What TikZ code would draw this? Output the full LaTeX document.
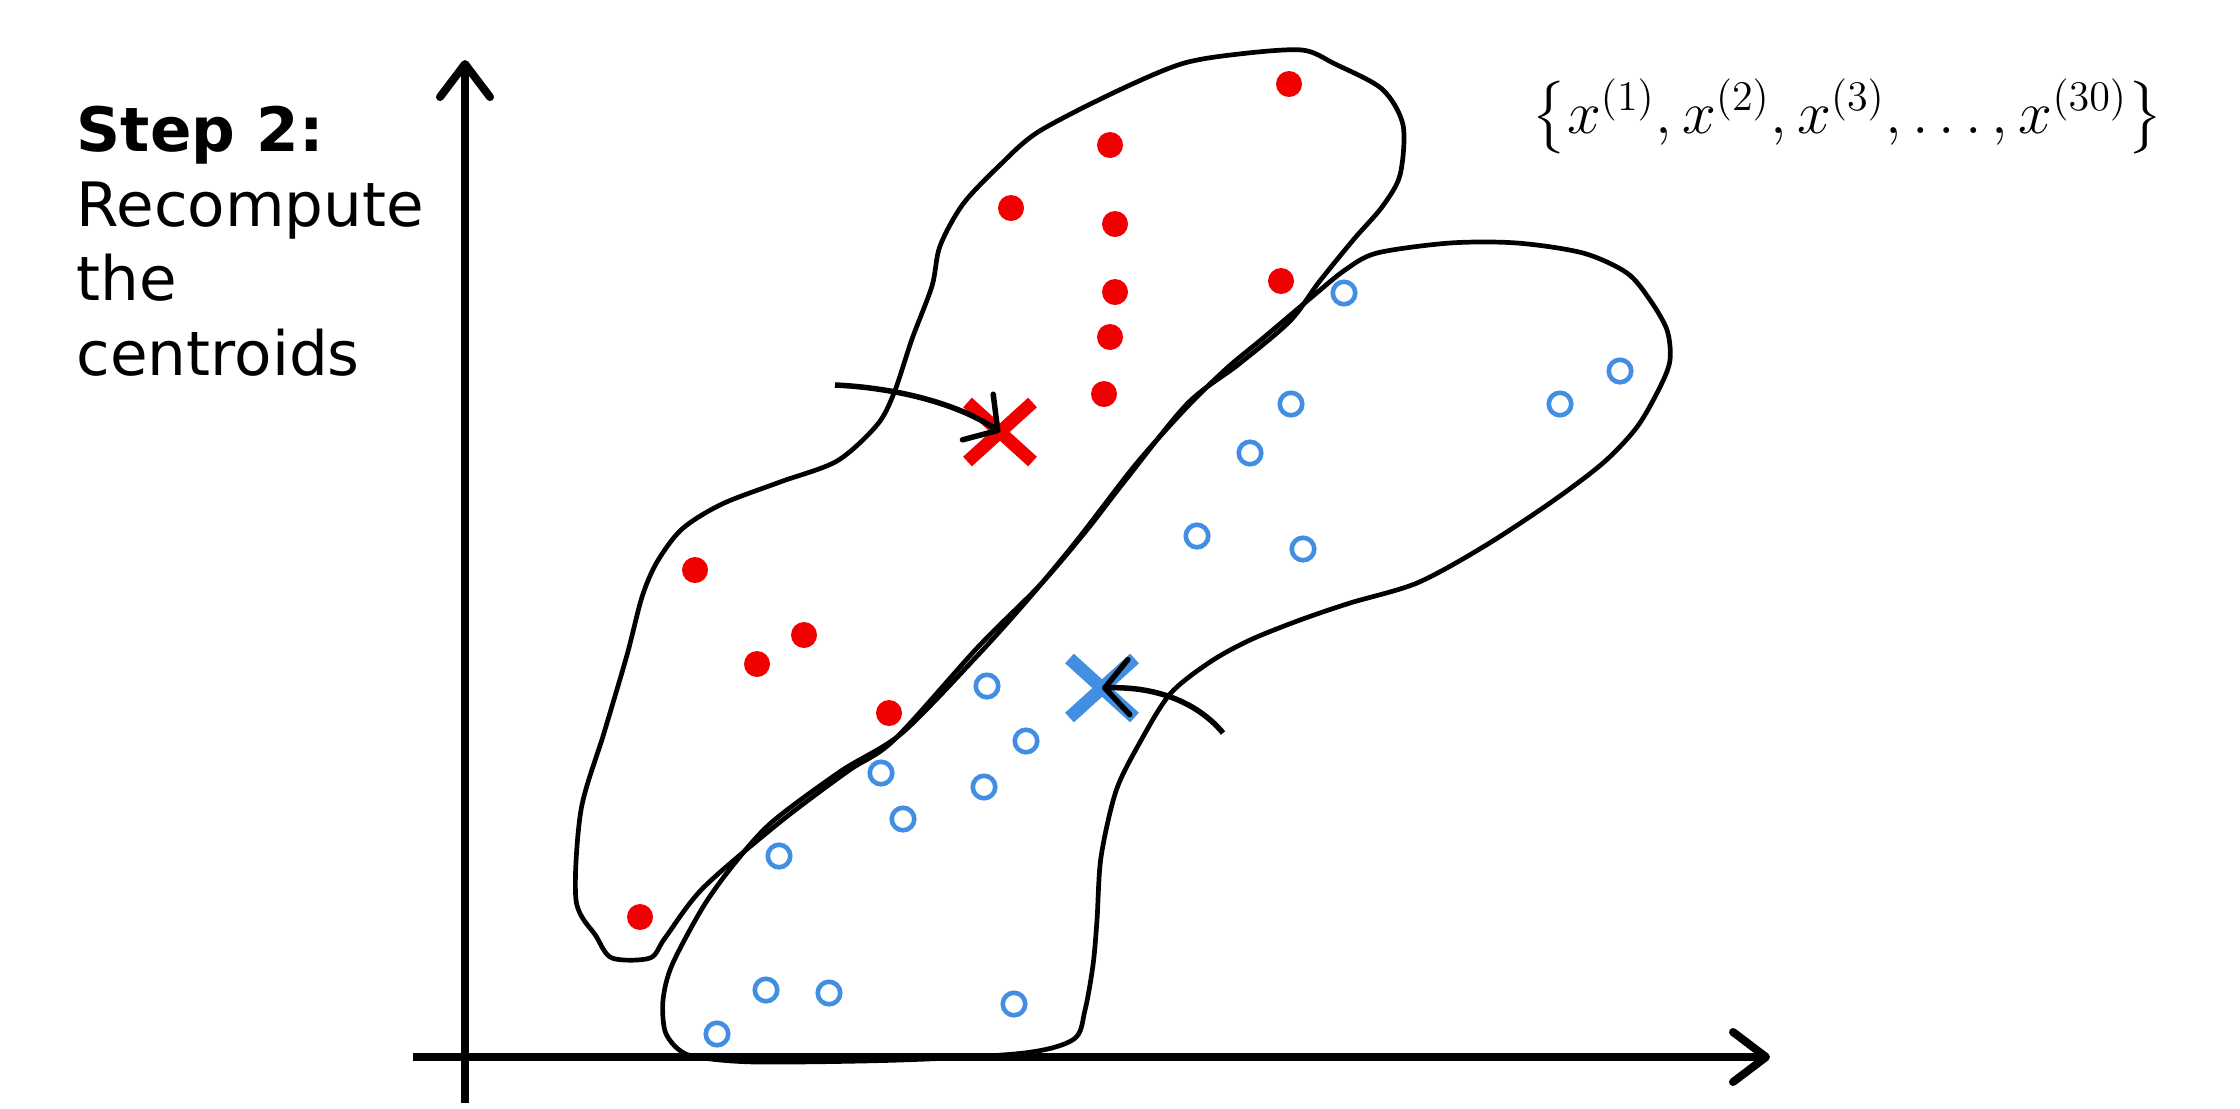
\documentclass[tikz,border=0pt]{standalone}
\usepackage{fontspec}
\usepackage{amsmath}
\newfontfamily\stepfont{DejaVu Sans}
\usetikzlibrary{arrows.meta,shapes.misc}
\definecolor{ptred}{RGB}{240,0,0}
\definecolor{ptblue}{RGB}{66,142,226}

\begin{document}
\begin{tikzpicture}[%
      x=0.01cm, y=-0.01cm,          % work in pixels of the slide
      axis/.style={line width=0.08cm, -{Straight Barb[length=3.3mm,width=5mm,round]}},
      pointer/.style={line width=0.055cm, -{Straight Barb[length=2.4mm,width=5.5mm,round]}},
      blob/.style={line width=0.047cm, line join=round}
      ]
  \tikzset{
     reddot/.style={circle, fill=ptred, inner sep=0pt, minimum size=0.26cm},
     bluedot/.style={circle, draw=ptblue, line width=0.046cm, inner sep=0pt, minimum size=0.225cm},
     centroid/.style={cross out, draw=#1, line width=0.13cm, inner sep=0pt,
        minimum width=0.52cm, minimum height=0.46cm}}
 \useasboundingbox (0,0) rectangle (2240,1108);

 % clusters
 \draw[blob] plot[smooth cycle, tension=0.5] coordinates {
   (1239,54) (1302,50) (1335,64) (1382,89) (1403,125) (1400,175) (1382,207)
   (1354,239) (1319,282) (1290,321) (1239,364) (1187,404) (1124,482) (1086,531)
   (1040,585) (978,647) (894,740) (848,771) (780,822) (703,888) (665,938)
   (650,958) (612,958) (596,936) (576,900) (581,810) (604,733)
   (627,655) (642,597) (657,562) (682,529) (722,504) (780,482) (837,461)
   (877,425) (894,393) (912,339) (932,286) (940,246) (963,204) (1000,165)
   (1038,132) (1113,93) (1181,64)};
 \draw[blob] plot[smooth cycle, tension=0.5] coordinates {
   (1377,253) (1450,243) (1517,243) (1583,253) (1627,273) (1650,300) (1667,330)
   (1670,360) (1660,387) (1637,427) (1603,463) (1550,503) (1483,547) (1417,583)
   (1350,603) (1300,620) (1250,640) (1210,662) (1170,694) (1139,744) (1116,791)
   (1101,857) (1097,920) (1093,965) (1085,1010) (1074,1039) (1024,1053)
   (900,1060) (757,1062) (697,1057) (678,1049) (665,1031) (663,1000) (672,965)
   (703,907) (734,864) (772,822) (841,771) (902,733) (978,655) (1030,597)
   (1078,539) (1136,464) (1187,407) (1227,368) (1262,339) (1313,296) (1345,270)};

 % axes
 \draw[axis] (465,1103) -- (465,60);
 \draw[axis] (413,1057) -- (1770,1057);

 % points
 \foreach \px/\py [count=\i] in {1289/84, 1110/145, 1011/208, 1115/224, 1281/281,
     1115/292, 1110/337, 1104/394, 695/570, 804/635, 757/664, 889/713, 640/917}
   \node[reddot] (r\i) at (\px,\py) {};
 \foreach \px/\py [count=\i] in {1344/293, 1620/371, 1291/404, 1560/404, 1250/453,
     1197/536, 1303/549, 987/686, 1026/741, 881/773, 984/787, 903/819, 779/856,
     766/990, 829/993, 1014/1004, 717/1034}
   \node[bluedot] (b\i) at (\px,\py) {};

 \node[centroid=ptred] (cr) at (1000,432) {};
 \node[centroid=ptblue] (cb) at (1102,688) {};

 \coordinate (ra) at (835,385);
 \coordinate (ba) at (1223,733);
 \draw[pointer] (ra) .. controls (900,388) and (960,405) .. (cr.center);
 \draw[pointer] (ba) .. controls (1200,705) and (1160,686) .. (cb.center);

 % labels
 \node[anchor=base west, align=left, inner sep=0pt,
       font=\stepfont\fontsize{17.4}{21.15}\selectfont] (step) at (76,375)
   {\textbf{Step 2:}\\Recompute\\the\\centroids};
 \node[anchor=base west, inner sep=0pt, font=\fontsize{18.5}{22}\selectfont] (set) at (1531,133)
   {$\left\{x^{(1)},x^{(2)},x^{(3)},\dots,x^{(30)}\right\}$};
\end{tikzpicture}
\end{document}
